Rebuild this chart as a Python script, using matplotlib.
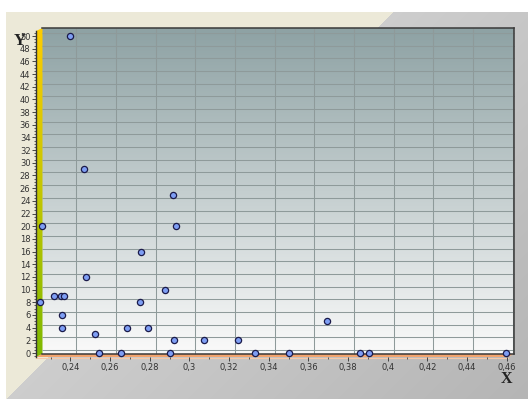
import matplotlib
matplotlib.use("Agg")
import matplotlib.pyplot as plt
import matplotlib.transforms as mtrans
from matplotlib.colors import LinearSegmentedColormap, to_rgb
from matplotlib.patches import Polygon
from matplotlib.ticker import MultipleLocator, FuncFormatter
import numpy as np

# data
x_vals = [0.2397, 0.2258, 0.2468, 0.2480, 0.2756, 0.2875, 0.2917, 0.2932,
          0.2245, 0.2318, 0.2352, 0.2367, 0.2356, 0.2356, 0.2524, 0.2542,
          0.2655, 0.2687, 0.2752, 0.2791, 0.2900, 0.2924, 0.3075, 0.3247,
          0.3331, 0.3501, 0.3696, 0.3861, 0.3906, 0.4597]
y_vals = [50, 20, 29, 12, 16, 10, 25, 20,
          8, 9, 9, 9, 6, 4, 3, 0,
          0, 4, 8, 4, 0, 2, 2, 2,
          0, 0, 5, 0, 0, 0]
x_ticks = [0.24, 0.26, 0.28, 0.30, 0.32, 0.34, 0.36, 0.38, 0.40, 0.42, 0.44, 0.46]
y_ticks = list(range(0, 51, 2))
x_range = (0.2226, 0.4607)
y_range = (-0.63, 50.79)

W, H = 528, 399
fig = plt.figure(figsize=(W / 100, H / 100), dpi=100)

# ---- background (pixel coordinates) ----
bg = fig.add_axes([0, 0, 1, 1])
bg.set_xlim(0, W)
bg.set_ylim(H, 0)
bg.set_axis_off()

yy, xx = np.mgrid[0:H, 0:W]
img = np.zeros((H, W, 3))
beige = np.array(to_rgb("#ECE9D8"))
g = (xx + yy) / (W + H)
gray = np.stack([0.88 - 0.17 * g] * 3, axis=-1)
mask = (xx + yy) < 405
img[:] = gray
img[mask] = beige
img[:12, :] = 1.0
img[:, :6] = 1.0
bg.imshow(img, extent=(0, W, H, 0), interpolation="nearest", zorder=0)

# back wall gradient
wall_cmap = LinearSegmentedColormap.from_list("wall", ["#8EA2A4", "#FAFAFA"])
grad = np.linspace(0, 1, 256).reshape(-1, 1)
bg.imshow(grad, cmap=wall_cmap, extent=(42, 514, 354, 28), aspect="auto", zorder=1)

# left side wall (yellow -> green)
side_cmap = LinearSegmentedColormap.from_list("side", ["#FFCC00", "#C4C600", "#7DB800"])
side = bg.imshow(grad, cmap=side_cmap, extent=(36, 42.5, 357, 28), aspect="auto", zorder=1)
side_poly = Polygon([(36, 31), (42.5, 28), (42.5, 354), (36, 357)], closed=True,
                    facecolor="none", edgecolor="none", transform=bg.transData)
bg.add_patch(side_poly)
side.set_clip_path(side_poly)

# floor
bg.add_patch(Polygon([(36, 357), (42, 354), (514, 354), (508, 357)], closed=True,
                     facecolor="#F2A46E", edgecolor="none", zorder=2))
bg.plot([36, 508], [357.5, 357.5], color="#F6C9A8", lw=0.8, zorder=2)

# ---- data axes (front plane) ----
ax = fig.add_axes([36 / W, (H - 357) / H, 472 / W, 326 / H])
ax.set_facecolor("none")
ax.set_xlim(*x_range)
ax.set_ylim(*y_range)

# grid on the back wall: shifted up/right
back = ax.transData + mtrans.ScaledTranslation(6 / 100, 3 / 100, fig.dpi_scale_trans)
grid_c = "#8E9A9A"
ax.vlines(x_ticks, y_range[0], y_range[1], colors=grid_c, lw=0.75,
          transform=back, clip_on=False, zorder=1)
ax.hlines(y_ticks, x_range[0], x_range[1], colors=grid_c, lw=0.75,
          transform=back, clip_on=False, zorder=1)
# wall edges
edge_c = "#3A3A3A"
ax.plot([x_range[0], x_range[1]], [y_range[1], y_range[1]], color=edge_c, lw=1.1,
        transform=back, clip_on=False, zorder=2)
ax.plot([x_range[1], x_range[1]], [y_range[0], y_range[1]], color=edge_c, lw=1.1,
        transform=back, clip_on=False, zorder=2)
ax.plot([x_range[0], x_range[1]], [y_range[0], y_range[0]], color=edge_c, lw=1.1,
        transform=back, clip_on=False, zorder=2)

ax.scatter(x_vals, y_vals, s=20, facecolor="#7E9EF4", edgecolor="#1A1A4A",
           linewidth=0.9, zorder=5, clip_on=False)

for side_name in ["top", "right", "bottom"]:
    ax.spines[side_name].set_visible(False)
ax.spines["left"].set_color("#333333")
ax.spines["left"].set_linewidth(1.0)

ax.set_xticks(x_ticks)
ax.set_yticks(y_ticks)
ax.xaxis.set_minor_locator(MultipleLocator(0.01))
ax.yaxis.set_minor_locator(MultipleLocator(0.5))
fmt = FuncFormatter(lambda v, p: f"{v:g}".replace(".", ","))
ax.xaxis.set_major_formatter(fmt)
ax.yaxis.set_major_formatter(fmt)
ax.tick_params(axis="both", which="major", labelsize=6, colors="#444444",
               labelcolor="#333333", length=3, width=0.7, pad=1)
ax.tick_params(axis="both", which="minor", colors="#444444", length=1.5, width=0.6)
ax.tick_params(axis="x", which="major", pad=1.5)

fig.text(20 / W, 1 - 41 / H, "Y", fontsize=12, fontweight="bold",
         family="Liberation Serif", color="#222222", ha="center", va="center")
fig.text(506 / W, 1 - 379 / H, "X", fontsize=11.5, fontweight="bold",
         family="Liberation Serif", color="#222222", ha="center", va="center")

fig.savefig("out.png", dpi=100)
